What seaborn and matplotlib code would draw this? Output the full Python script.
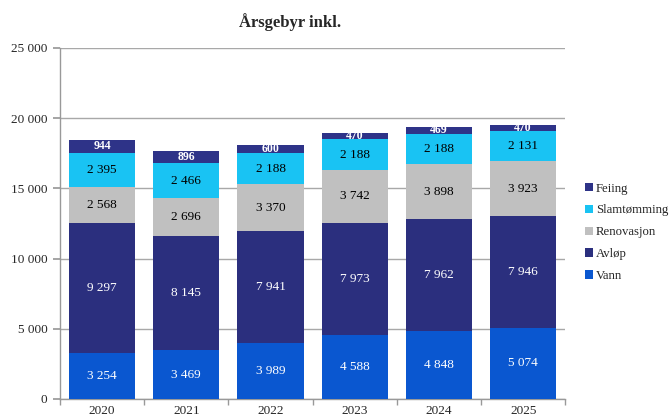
import matplotlib
matplotlib.use("Agg")
import matplotlib.pyplot as plt
import numpy as np
import seaborn as sns
from matplotlib.ticker import FuncFormatter

sns.set_theme(style="white")
plt.rcParams["font.family"] = ["Liberation Serif", "DejaVu Serif"]

years = ["2020", "2021", "2022", "2023", "2024", "2025"]
vann = [3254, 3469, 3989, 4588, 4848, 5074]
avlop = [9297, 8145, 7941, 7973, 7962, 7946]
renovasjon = [2568, 2696, 3370, 3742, 3898, 3923]
slamtomming = [2395, 2466, 2188, 2188, 2188, 2131]
feiing = [944, 896, 600, 470, 469, 470]

series = [
    ("Vann", vann, "#0a57d0", "white", "normal"),
    ("Avløp", avlop, "#2b2f7e", "white", "normal"),
    ("Renovasjon", renovasjon, "#c0c0c0", "black", "normal"),
    ("Slamtømming", slamtomming, "#19c3f3", "black", "normal"),
    ("Feiing", feiing, "#2e3388", "white", "bold"),
]


def thousands(v, _pos=None):
    return f"{int(v):,}".replace(",", " ")


fig = plt.figure(figsize=(6.71, 4.18), dpi=100)
ax = fig.add_axes([0.0894, 0.0455, 0.753, 0.8397])

x = np.arange(len(years))
bottom = np.zeros(len(years))
handles = []
for name, vals, color, txt_color, weight in series:
    vals = np.array(vals, dtype=float)
    bars = ax.bar(x, vals, bottom=bottom, width=0.785, color=color, label=name,
                  linewidth=0, zorder=3)
    handles.append(bars)
    for xi, b, v in zip(x, bottom, vals):
        ax.text(xi, b + v / 2, thousands(v), ha="center", va="center",
                color=txt_color, fontsize=9.5 if weight == "normal" else 8.5,
                fontweight=weight, zorder=4)
    bottom += vals

ax.set_xlim(-0.5, len(years) - 0.5)
ax.set_ylim(0, 25000)
ax.set_yticks(range(0, 25001, 5000))
ax.yaxis.set_major_formatter(FuncFormatter(thousands))
ax.set_xticks(x)
ax.set_xticklabels(years)
ax.set_xticks(np.arange(-0.5, len(years), 1), minor=True)
ax.tick_params(axis="x", which="major", length=0, labelsize=9.5, pad=4)
ax.tick_params(axis="x", which="minor", length=4, color="#999999", bottom=True)
ax.tick_params(axis="y", length=5, color="#999999", left=True, labelsize=9.5, pad=4)

ax.grid(axis="y", color="#a8a8a8", linewidth=1, zorder=0)
for side in ["top", "right"]:
    ax.spines[side].set_visible(False)
for side in ["left", "bottom"]:
    ax.spines[side].set_color("#999999")
    ax.spines[side].set_linewidth(1)

fig.text(290 / 671, 1 - 22 / 418, "Årsgebyr inkl.", ha="center", va="center",
         fontsize=12, fontweight="bold")

leg = ax.legend(handles=handles[::-1], labels=[s[0] for s in series][::-1],
                loc="center left", bbox_to_anchor=(1.034, 0.475), frameon=False,
                fontsize=9.2, handlelength=0.65, handleheight=0.65, handletextpad=0.2,
                labelspacing=0.77, borderaxespad=0, borderpad=0.2)

fig.savefig("out.png", dpi=100)
